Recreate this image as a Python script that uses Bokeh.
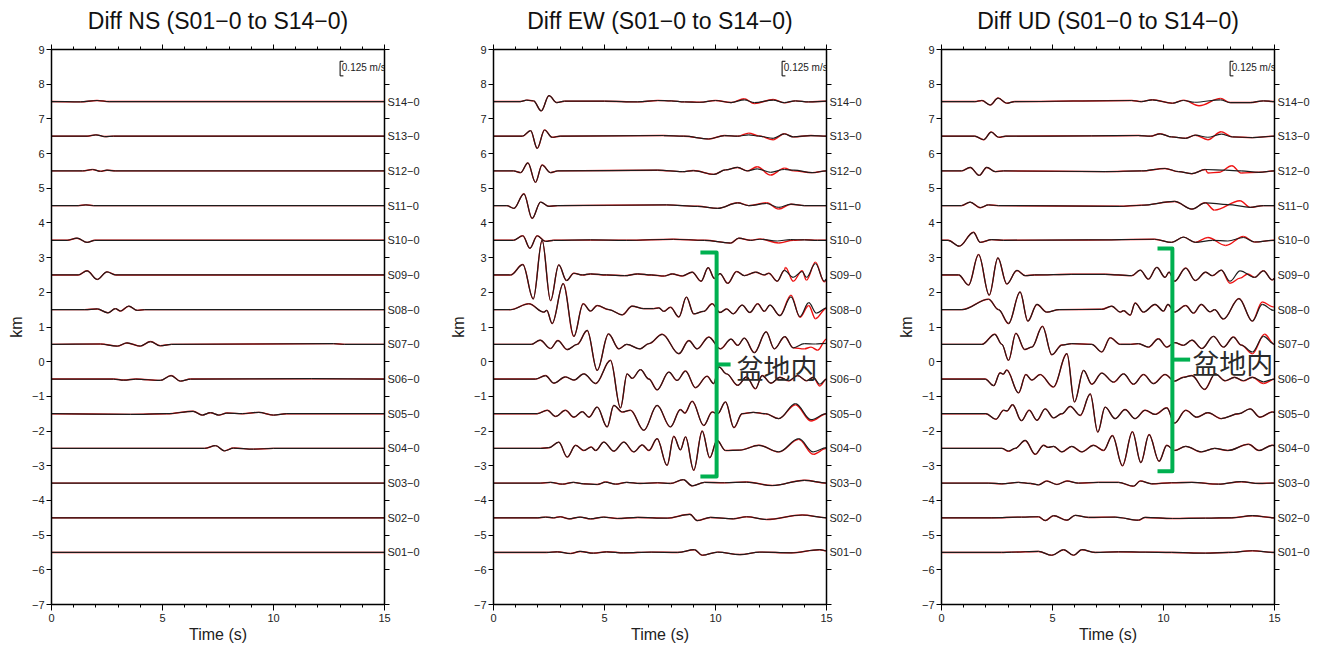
import numpy as np
from bokeh.plotting import figure
from bokeh.layouts import row
from bokeh.models import ColumnDataSource, LinearAxis, FixedTicker, Label, Range1d, HTMLLabel
from bokeh.embed import file_html
from bokeh.resources import INLINE

# ---------------- data ----------------
STATIONS = ["S01−0", "S02−0", "S03−0", "S04−0", "S05−0", "S06−0", "S07−0",
            "S08−0", "S09−0", "S10−0", "S11−0", "S12−0", "S13−0", "S14−0"]
OFFSETS = [-5.5, -4.5, -3.5, -2.5, -1.5, -0.5, 0.5, 1.5, 2.5, 3.5, 4.5, 5.5, 6.5, 7.5]
X_TICKS = [0, 5, 10, 15]
X_MINOR = list(range(0, 16))
Y_TICKS = list(range(-7, 10))
TITLES = ["Diff NS (S01−0 to S14−0)", "Diff EW (S01−0 to S14−0)", "Diff UD (S01−0 to S14−0)"]
SCALE_TEXT = "0.125 m/s"
BASIN_TEXT = "盆地内"

# waveform turning points: (time s, deflection km)
NS_S14 = [(0, 0), (1.3, -0.01), (2.05, 0.03), (2.6, 0), (15, 0)]
NS_S13 = [(0, 0), (1.6, 0), (2.0, 0.04), (2.4, -0.01), (2.8, 0), (15, 0)]
NS_S12 = [(0, 0), (1.4, 0), (1.85, 0.04), (2.2, -0.01), (2.5, 0.02), (2.9, 0), (15, 0)]
NS_S11 = [(0, 0), (1.2, 0), (1.55, 0.02), (1.9, 0), (15, 0)]
NS_S10 = [(0, 0), (0.7, 0), (1.15, 0.06), (1.6, -0.06), (1.95, 0), (15, 0)]
NS_S09 = [(0, 0), (1.2, 0), (1.6, 0.12), (2.06, -0.13), (2.5, 0.09), (2.9, 0), (15, 0)]
NS_S08 = [(0, 0), (1.5, 0), (2.06, 0.02), (2.54, -0.09), (2.88, 0.03), (3.1, -0.04), (3.48, 0.1),
          (3.86, -0.02), (4.2, 0), (15, 0)]
NS_S07 = [(0, 0), (2.2, 0.01), (2.96, -0.05), (3.4, 0.04), (4.0, -0.05), (4.46, 0.08), (4.9, -0.04),
          (5.4, 0), (12.7, 0.02), (13.2, 0), (15, 0)]
NS_S06 = [(0, 0), (2.8, 0), (3.26, -0.03), (3.8, 0), (4.9, -0.04), (5.39, 0.1), (5.8, -0.06),
          (6.26, 0), (11.7, 0.01), (15, 0)]
NS_S05 = [(0, 0), (3.56, -0.02), (5.2, 0), (6.38, 0.07), (6.79, -0.04), (7.16, 0.03), (7.54, -0.04),
          (7.9, 0.02), (8.6, 0), (9.34, 0.04), (10.0, -0.04), (10.6, 0), (15, 0)]
NS_S04 = [(0, 0), (6.9, 0), (7.39, 0.08), (7.79, -0.07), (8.2, 0.01), (9.1, -0.02), (10.0, 0), (15, 0)]
NS_S03 = [(0, 0), (15, 0)]
NS_S02 = [(0, 0), (15, 0)]
NS_S01 = [(0, 0), (15, 0)]

EW_S14 = [(0, 0), (1.2, 0), (1.5, 0.04), (1.8, 0.02), (2.15, -0.27), (2.5, 0.17), (2.85, -0.03),
          (3.2, 0.01), (5.0, 0.01), (6.5, -0.01), (7.4, 0.03), (8.0, 0.02), (8.6, -0.01), (9.3, -0.02),
          (10.0, 0.03), (10.7, -0.03), (11.3, 0.05), (11.75, -0.03), (12.6, 0.04), (13.1, -0.03),
          (13.6, 0.02), (14.2, -0.01), (15, 0.01)]
EW_S13 = [(0, 0), (1.3, 0), (1.67, 0.16), (1.97, -0.35), (2.3, 0.18), (2.64, -0.03), (3.0, 0),
          (7.67, 0.02), (8.57, 0), (9.7, -0.08), (10.4, 0.02), (11.0, 0.0), (11.5, 0.04), (11.95, 0.0),
          (12.6, -0.06), (13.1, 0.07), (13.5, -0.02), (14.3, 0.02), (15, 0)]
EW_S12 = [(0, 0), (0.9, 0), (1.22, -0.05), (1.55, 0.23), (1.89, -0.33), (2.19, 0.17), (2.57, -0.05),
          (2.9, 0), (7.4, 0.02), (8.5, -0.02), (9.0, 0.01), (9.93, -0.1), (10.45, 0.03), (11.0, 0.1),
          (11.43, 0.0), (11.88, 0.06), (12.48, -0.04), (13.1, 0.04), (13.53, 0.02), (14.35, -0.05), (15, 0)]
EW_S11 = [(0, 0), (0.6, 0), (0.92, -0.08), (1.37, 0.34), (1.74, -0.37), (2.12, 0.1), (2.5, -0.02),
          (2.9, 0), (7.8, 0.02), (9.2, -0.02), (10.1, -0.08), (11.0, 0.08), (11.5, 0.0), (12.3, 0.06),
          (12.85, -0.05), (13.4, 0.04), (14.0, 0), (15, 0)]
EW_S10 = [(0, 0), (0.9, 0), (1.32, 0.13), (1.64, -0.23), (1.97, 0.13), (2.34, -0.03), (2.7, 0),
          (4.37, 0.01), (6.0, 0), (8.1, 0.03), (9.5, 0), (10.68, -0.08), (11.05, 0.06), (11.58, 0),
          (12.0, 0.03), (12.78, -0.02), (13.38, 0.02), (14.0, 0.01), (14.6, 0), (15, 0)]
EW_S09 = [(0, 0), (0.77, 0), (1.32, 0.3), (1.79, -0.69), (2.19, 1.0), (2.57, -0.74), (2.94, 0.29),
          (3.29, -0.16), (3.62, 0.05), (4.0, 0), (4.37, 0.03), (5.1, 0.0), (5.9, -0.02), (6.5, 0.03),
          (7.1, 0), (7.7, -0.03), (8.05, 0.03), (8.5, -0.03), (8.95, 0.08), (9.35, -0.18), (9.67, 0.21),
          (9.95, -0.1), (10.2, 0.04), (10.55, -0.24), (10.95, 0.1), (11.3, -0.02), (11.8, 0.08),
          (12.2, 0.0), (12.4, 0.05), (12.78, -0.18), (13.1, 0.13), (13.5, -0.07), (13.9, 0.1),
          (14.1, -0.07), (14.5, 0.33), (14.9, -0.18), (15, -0.12)]
EW_S08 = [(0, 0), (0.77, 0), (1.59, 0.17), (2.27, -0.07), (2.4, -0.02), (2.64, -0.4), (3.14, 0.75),
          (3.62, -0.77), (4.04, 0.17), (4.37, -0.04), (4.67, 0.12), (5.2, 0.0), (5.8, -0.15), (6.24, 0.1),
          (6.77, 0.03), (7.2, 0.03), (7.45, 0.05), (7.67, -0.05), (7.97, 0.07), (8.35, -0.21), (8.69, 0.36),
          (9.02, -0.12), (9.47, -0.05), (9.85, 0.17), (10.2, -0.08), (10.5, 0.02), (10.8, -0.12),
          (11.2, 0.13), (11.55, -0.08), (11.9, 0.17), (12.2, -0.05), (12.45, 0.13), (12.9, -0.17),
          (13.4, 0.37), (13.8, -0.2), (14.2, 0.2), (14.55, -0.1), (15, 0.05)]
EW_S07 = [(0, 0), (1.7, 0), (2.1, 0.12), (2.57, -0.12), (2.9, 0.11), (3.32, -0.15), (3.77, 0.0),
          (4.22, 0.4), (4.67, -0.75), (5.18, 0.3), (5.65, -0.13), (6.0, 0.0), (6.6, -0.13), (7.0, 0.02),
          (7.6, 0.29), (8.35, -0.27), (8.8, 0.11), (9.17, -0.13), (9.7, 0.21), (10.22, -0.13),
          (10.7, 0.15), (11.0, -0.03), (11.3, 0.18), (11.75, -0.24), (12.28, 0.36), (12.65, -0.13),
          (13.12, 0.22), (13.5, -0.1), (14.0, 0.02), (14.5, 0.01), (15, 0.03)]
EW_S06 = [(0, 0), (1.9, 0), (2.34, 0.1), (2.72, -0.12), (3.24, 0.06), (3.62, -0.03), (4.07, 0.15),
          (4.6, -0.13), (5.27, 0.54), (5.72, -0.83), (6.02, 0.15), (6.25, 0.02), (6.62, 0.27), (7.0, 0.0),
          (7.37, -0.31), (7.9, 0.2), (8.27, -0.04), (8.65, 0.23), (9.1, -0.25), (9.62, 0.08),
          (9.92, -0.13), (10.15, 0.35), (10.5, 0.15), (11.0, -0.18), (11.4, 0.06), (11.8, -0.28),
          (12.1, 0.1), (12.5, -0.12), (12.9, 0.05), (13.3, -0.05), (13.7, 0.1), (14.1, -0.05),
          (14.4, 0.05), (14.7, -0.15), (15, 0.0)]
EW_S05 = [(0, 0), (1.97, 0), (2.42, 0.1), (2.8, -0.08), (3.24, 0.1), (3.62, -0.1), (4.0, 0.06),
          (4.3, -0.1), (4.67, 0.19), (5.12, -0.38), (5.42, 0.24), (5.8, 0.05), (6.17, 0.1), (6.77, -0.48),
          (7.37, 0.24), (7.97, -0.38), (8.42, 0.12), (8.62, 0.02), (8.95, 0.36), (9.47, -0.34),
          (9.85, 0.05), (10.1, 0.0), (10.45, 0.34), (10.83, -0.4), (11.2, 0.0), (11.7, 0.04),
          (12.25, 0.0), (12.85, -0.14), (13.6, 0.29), (14.3, -0.17), (15, 0.0)]
EW_S04 = [(0, 0), (2.1, 0), (2.49, 0.02), (2.94, 0.18), (3.32, -0.25), (3.7, 0.09), (4.07, -0.06),
          (4.4, 0.04), (4.6, -0.06), (4.97, 0.18), (5.42, -0.08), (5.87, 0.18), (6.32, -0.1), (6.7, 0.1),
          (7.0, -0.06), (7.37, 0.28), (7.82, -0.49), (8.12, 0.35), (8.42, -0.04), (8.65, 0.33),
          (9.02, -0.63), (9.4, 0.5), (9.74, -0.27), (10.07, 0.23), (10.45, -0.06), (11.1, -0.05),
          (11.95, 0.09), (12.85, -0.1), (13.75, 0.28), (14.4, -0.1), (15, 0.02)]
EW_S03 = [(0, 0), (2.1, 0), (2.57, 0.02), (3.1, -0.03), (3.6, 0.02), (4.07, -0.02), (4.67, -0.04),
          (5.05, 0.03), (5.5, -0.03), (6.0, 0.02), (6.6, -0.01), (7.4, 0.01), (7.97, -0.01), (8.55, 0.1),
          (8.95, -0.08), (9.5, 0.02), (10.4, 0.01), (11.4, 0.03), (12.55, -0.07), (14.0, 0.08), (15, 0)]
EW_S02 = [(0, 0), (2.0, 0), (2.35, 0.02), (2.7, 0.0), (3.0, 0.03), (3.4, -0.03), (3.9, 0.02),
          (4.37, -0.03), (4.97, 0.02), (5.57, -0.02), (6.5, 0.01), (7.82, -0.01), (8.85, 0.1),
          (9.17, -0.08), (9.77, 0.01), (10.8, -0.03), (11.4, 0.03), (12.3, -0.05), (13.9, 0.08), (15, 0)]
EW_S01 = [(0, 0), (2.4, 0), (2.87, 0.02), (3.47, -0.03), (3.9, 0.03), (4.5, -0.02), (5.1, 0.02),
          (5.87, -0.01), (7.1, 0.01), (8.3, 0), (9.05, 0.08), (9.4, -0.08), (10.1, 0.01), (11.1, -0.06),
          (12.0, 0.01), (13.4, -0.01), (14.7, 0.08), (15, 0.05)]

UD_S14 = [(0, 0), (1.5, 0), (1.82, 0.03), (2.19, -0.1), (2.55, 0.1), (2.94, -0.05), (3.3, 0),
          (8.57, 0.03), (9.0, 0.0), (9.5, 0.05), (10.4, -0.05), (10.9, 0.03), (11.4, -0.02),
          (12.57, 0.05), (13.0, -0.03), (13.9, -0.03), (14.5, 0.02), (15, 0)]
UD_S13 = [(0, 0), (1.5, 0), (1.9, -0.1), (2.24, 0.12), (2.57, -0.03), (2.9, 0), (6.77, 0.01),
          (8.9, 0.02), (9.4, 0.0), (9.85, 0.07), (10.37, -0.02), (11.0, -0.06), (11.43, 0.03),
          (12.0, -0.03), (12.6, 0.06), (13.1, -0.02), (14.0, -0.04), (15, 0)]
UD_S12 = [(0, 0), (0.9, 0), (1.29, 0.1), (1.7, -0.13), (2.04, 0.1), (2.42, -0.02), (2.8, 0),
          (7.37, -0.02), (9.0, 0.0), (10.07, 0.07), (10.68, -0.02), (11.28, -0.08), (11.88, 0.04),
          (12.8, 0.02), (13.5, 0.0), (14.3, -0.04), (15, 0)]
UD_S11 = [(0, 0), (0.9, 0), (1.29, 0.1), (1.74, -0.06), (2.12, 0.02), (2.57, 0), (8.0, -0.02),
          (9.0, 0.01), (10.5, 0.12), (11.28, -0.1), (11.88, 0.08), (12.9, 0.03), (13.9, -0.05),
          (14.5, 0), (15, 0)]
UD_S10 = [(0, 0), (0.3, 0), (0.8, -0.17), (1.44, 0.23), (1.74, -0.06), (2.27, 0.02), (2.8, 0),
          (6.6, 0.01), (9.6, 0.03), (10.37, -0.06), (10.9, 0.09), (11.43, -0.06), (12.2, 0.0),
          (12.9, -0.02), (13.6, 0.08), (14.1, -0.05), (15, 0)]
UD_S09 = [(0, 0), (0.77, 0), (1.22, -0.29), (1.67, 0.59), (2.15, -0.58), (2.54, 0.49), (2.94, -0.26),
          (3.4, 0.13), (3.77, -0.02), (4.2, 0), (5.87, 0.02), (7.37, 0.02), (8.57, -0.02), (8.95, 0.14),
          (9.32, -0.12), (9.7, 0.22), (10.07, -0.07), (10.25, 0.08), (10.5, -0.18), (11.0, 0.2),
          (11.43, -0.16), (11.9, 0.08), (12.2, -0.02), (12.6, 0.14), (13.0, -0.18), (13.45, 0.12),
          (14.1, -0.07), (14.5, 0.12), (14.9, -0.14), (15, -0.1)]
UD_S08 = [(0, 0), (0.92, 0), (2.12, 0.3), (2.57, 0.0), (3.02, -0.4), (3.54, 0.51), (3.89, -0.33),
          (4.3, 0.15), (4.74, -0.07), (5.3, 0), (7.22, 0.01), (7.67, 0.1), (8.05, -0.07), (8.2, -0.03),
          (8.5, -0.16), (8.72, 0.19), (9.1, -0.07), (9.62, 0.15), (10.0, -0.04), (10.2, 0.15),
          (10.5, -0.07), (11.0, 0.12), (11.35, -0.1), (11.7, 0.15), (12.1, -0.06), (12.3, 0.0),
          (12.7, -0.27), (13.4, 0.32), (14.0, -0.33), (14.45, 0.15), (14.95, -0.02), (15, -0.02)]
UD_S07 = [(0, 0), (1.82, 0), (2.4, 0.29), (2.72, 0.0), (3.02, -0.46), (3.35, 0.32), (3.75, -0.15),
          (4.07, -0.08), (4.55, 0.52), (4.97, -0.3), (5.42, -0.02), (5.87, 0.02), (6.77, 0),
          (7.22, -0.22), (7.6, 0.19), (8.05, 0.0), (8.5, 0.0), (8.87, 0.02), (9.32, -0.08), (9.77, 0.16),
          (10.15, -0.08), (10.5, 0.05), (10.9, -0.03), (11.28, 0.12), (11.73, -0.12), (12.25, 0.23),
          (12.7, -0.08), (13.15, 0.21), (13.5, -0.02), (14.0, -0.22), (14.5, 0.23), (15, 0)]
UD_S06 = [(0, 0), (1.97, 0), (2.35, -0.19), (2.64, 0.18), (2.78, 0.14), (2.94, 0.26), (3.47, -0.4),
          (3.8, 0.13), (4.07, -0.03), (4.44, 0.13), (5.04, -0.23), (5.65, 0.73), (5.99, -0.66),
          (6.4, 0.25), (6.77, -0.15), (7.22, 0.17), (7.75, -0.09), (8.2, 0.15), (8.65, -0.15),
          (9.1, 0.13), (9.55, -0.13), (10.07, 0.13), (10.5, -0.06), (10.9, 0.05), (11.28, 0.1),
          (11.85, -0.3), (12.33, 0.15), (12.78, -0.05), (13.2, 0.05), (13.6, -0.05), (14.0, 0.05),
          (14.5, -0.08), (15, 0)]
UD_S05 = [(0, 0), (2.0, 0), (2.45, -0.16), (2.8, 0.1), (2.95, 0.08), (3.2, 0.26), (3.6, -0.2),
          (3.95, 0.1), (4.3, -0.19), (4.67, 0.14), (5.05, -0.12), (5.42, 0.0), (5.8, 0.21),
          (6.25, -0.05), (6.7, 0.57), (7.04, -0.53), (7.37, 0.19), (7.82, -0.14), (8.27, 0.12),
          (8.72, -0.14), (9.17, 0.1), (9.62, -0.02), (10.15, 0.17), (10.5, -0.27), (11.0, 0.1),
          (11.5, -0.1), (12.0, 0.03), (12.6, -0.14), (13.4, 0.0), (13.9, 0.14), (14.35, -0.1),
          (14.9, 0.05), (15, 0.04)]
UD_S04 = [(0, 0), (2.72, 0), (3.02, -0.08), (3.32, 0.0), (3.77, 0.23), (4.22, -0.17), (4.6, 0.09),
          (4.8, 0.03), (5.05, 0.06), (5.42, -0.1), (5.87, 0.06), (6.32, -0.1), (6.85, 0.09), (7.3, -0.06),
          (7.7, 0.37), (8.15, -0.5), (8.6, 0.48), (8.98, -0.41), (9.35, 0.4), (9.8, -0.37),
          (10.15, 0.09), (10.5, -0.06), (11.0, 0.06), (11.7, -0.1), (12.3, 0.0), (12.9, -0.06),
          (13.83, 0.12), (14.3, -0.06), (14.9, 0.09), (15, 0.08)]
UD_S03 = [(0, 0), (2.1, 0), (2.72, -0.02), (3.47, 0.02), (4.0, -0.01), (4.37, -0.05), (4.74, 0.06),
          (5.2, -0.04), (5.65, 0.06), (6.17, 0.0), (7.07, 0.02), (7.97, 0.02), (8.65, -0.09),
          (8.95, 0.06), (9.47, -0.02), (10.37, 0.01), (11.28, 0.02), (12.48, -0.03), (13.5, 0.04),
          (14.3, -0.01), (15, 0)]
UD_S02 = [(0, 0), (2.27, 0), (3.6, 0.02), (4.37, 0.03), (4.67, -0.08), (5.05, 0.06), (5.65, -0.07),
          (6.02, 0.07), (6.62, 0.01), (7.82, 0.02), (8.87, -0.07), (9.17, 0.01), (10.4, -0.02),
          (11.9, -0.01), (13.08, 0), (14.0, 0.06), (15, 0)]
UD_S01 = [(0, 0), (2.7, 0), (3.17, 0.01), (4.37, 0.03), (4.97, -0.08), (5.5, 0.08), (5.95, -0.08),
          (6.32, 0.08), (6.92, 0), (7.97, 0.02), (9.17, 0.01), (10.37, 0), (11.88, -0.02), (12.93, 0),
          (14.0, 0.05), (15, 0)]

# red trace where it departs from the black one (from its first time to the end)
EW_S14_red = [(11.3, 0.08), (11.75, -0.06), (12.6, 0.06), (13.1, -0.04), (13.6, 0.02), (14.2, -0.01), (15, 0.01)]
EW_S13_red = [(11.5, 0.09), (11.95, 0.01), (12.6, -0.1), (13.1, 0.07), (13.5, -0.02), (14.3, 0.02), (15, 0)]
EW_S12_red = [(11.88, 0.12), (12.48, -0.12), (13.1, 0.08), (13.53, 0.0), (14.35, -0.05), (15, 0)]
EW_S11_red = [(12.3, 0.08), (12.85, -0.1), (13.4, 0.04), (14.0, 0), (15, 0)]
EW_S10_red = [(12.0, 0.04), (12.85, -0.08), (13.5, 0.0), (14.0, 0.02), (14.6, 0), (15, 0)]
EW_S09_red = [(13.15, 0.22), (13.5, -0.18), (13.9, 0.12), (14.1, -0.15), (14.5, 0.37), (14.9, -0.2), (15, -0.14)]
EW_S08_red = [(13.4, 0.42), (13.8, -0.22), (14.2, 0.12), (14.5, -0.26), (15, 0.04)]
EW_S07_red = [(13.5, -0.1), (14.0, -0.13), (14.3, -0.08), (14.6, -0.17), (15, 0.15)]
EW_S06_red = [(14.7, -0.2), (15, 0.0)]
EW_S05_red = [(13.6, 0.26), (14.3, -0.21), (15, 0.0)]
EW_S04_red = [(13.75, 0.26), (14.4, -0.17), (15, 0.0)]

UD_S14_red = [(10.9, 0.04), (11.6, -0.12), (12.57, 0.09), (13.0, -0.03), (13.9, -0.03), (14.5, 0.02), (15, 0)]
UD_S13_red = [(12.0, -0.1), (12.6, 0.13), (13.1, -0.02), (14.0, -0.04), (15, 0)]
UD_S12_red = [(12.0, -0.06), (12.5, -0.04), (13.08, 0.15), (13.5, -0.06), (14.3, -0.04), (15, 0)]
UD_S11_red = [(12.3, -0.13), (13.45, 0.14), (13.9, -0.05), (14.5, 0), (15, 0)]
UD_S10_red = [(12.0, 0.08), (12.8, -0.15), (13.6, 0.11), (14.1, -0.05), (15, 0)]
UD_S09_red = [(13.0, -0.24), (13.45, -0.09), (13.8, 0.03), (14.1, -0.07), (14.5, 0.12), (14.9, -0.14), (15, -0.1)]
UD_S08_red = [(14.0, -0.33), (14.45, 0.22), (14.95, 0.08), (15, 0.08)]
UD_S07_red = [(14.0, -0.27), (14.55, 0.29), (15, 0.0)]
UD_S06_red = [(14.5, -0.13), (15, 0)]

NS_BLACK = [NS_S01, NS_S02, NS_S03, NS_S04, NS_S05, NS_S06, NS_S07, NS_S08, NS_S09, NS_S10,
            NS_S11, NS_S12, NS_S13, NS_S14]
EW_BLACK = [EW_S01, EW_S02, EW_S03, EW_S04, EW_S05, EW_S06, EW_S07, EW_S08, EW_S09, EW_S10,
            EW_S11, EW_S12, EW_S13, EW_S14]
UD_BLACK = [UD_S01, UD_S02, UD_S03, UD_S04, UD_S05, UD_S06, UD_S07, UD_S08, UD_S09, UD_S10,
            UD_S11, UD_S12, UD_S13, UD_S14]
NS_RED = [None] * 14
EW_RED = [None, None, None, EW_S04_red, EW_S05_red, EW_S06_red, EW_S07_red, EW_S08_red,
          EW_S09_red, EW_S10_red, EW_S11_red, EW_S12_red, EW_S13_red, EW_S14_red]
UD_RED = [None, None, None, None, None, UD_S06_red, UD_S07_red, UD_S08_red, UD_S09_red,
          UD_S10_red, UD_S11_red, UD_S12_red, UD_S13_red, UD_S14_red]

# ---------------- drawing ----------------
FONT = "Liberation Sans"
K = 0.36


def segments(traces):
    cols = {k: [] for k in ("x0", "y0", "x1", "y1", "cx0", "cy0", "cx1", "cy1")}
    for pts, base in traces:
        t = np.array([p[0] for p in pts], dtype=float)
        a = np.array([p[1] for p in pts], dtype=float) + base
        d = t[1:] - t[:-1]
        cols["x0"] += list(t[:-1]); cols["x1"] += list(t[1:])
        cols["y0"] += list(a[:-1]); cols["y1"] += list(a[1:])
        cols["cx0"] += list(t[:-1] + K * d); cols["cy0"] += list(a[:-1])
        cols["cx1"] += list(t[1:] - K * d); cols["cy1"] += list(a[1:])
    return ColumnDataSource(cols)


def style_axis(ax):
    ax.axis_line_width = 1.5
    ax.axis_line_color = "black"
    ax.major_tick_line_color = "black"
    ax.minor_tick_line_color = "black"
    ax.major_tick_in = 0
    ax.minor_tick_in = 0
    ax.major_label_text_font = FONT
    ax.major_label_text_font_size = "11px"
    ax.major_label_text_color = "#222222"
    ax.axis_label_text_font = FONT
    ax.axis_label_text_font_size = "16px"
    ax.axis_label_text_font_style = "normal"
    ax.axis_label_text_color = "#222222"


def make_panel(title, black, red, border_left, border_right, bracket=None):
    p = figure(frame_width=333, frame_height=555, x_range=Range1d(0, 15), y_range=Range1d(-7, 9),
               output_backend="svg", toolbar_location=None, x_axis_location=None,
               y_axis_location=None, min_border_left=border_left, min_border_right=border_right,
               min_border_top=49, min_border_bottom=40, title=title)
    p.grid.visible = False
    p.outline_line_color = None
    p.title.align = "center"
    p.title.text_font = FONT
    p.title.text_font_size = "23px"
    p.title.text_font_style = "normal"
    p.title.text_color = "#111111"

    left = LinearAxis(ticker=FixedTicker(ticks=Y_TICKS),
                      major_label_overrides={v: str(v).replace("-", "−") for v in Y_TICKS},
                      axis_label="km")
    style_axis(left)
    left.major_tick_out = 5
    left.major_label_standoff = 2
    left.axis_label_standoff = 4
    p.add_layout(left, "left")

    right = LinearAxis(ticker=FixedTicker(ticks=OFFSETS, minor_ticks=Y_TICKS),
                       major_label_overrides={o: s for o, s in zip(OFFSETS, STATIONS)})
    style_axis(right)
    right.major_tick_out = 0
    right.minor_tick_out = 5
    right.major_label_standoff = -2
    p.add_layout(right, "right")

    bottom = LinearAxis(ticker=FixedTicker(ticks=X_TICKS, minor_ticks=X_MINOR), axis_label="Time (s)")
    style_axis(bottom)
    bottom.major_tick_out = 6
    bottom.minor_tick_out = 3
    bottom.major_label_standoff = 3
    bottom.axis_label_standoff = 1
    p.add_layout(bottom, "below")

    top = LinearAxis(ticker=FixedTicker(ticks=X_TICKS, minor_ticks=X_MINOR),
                     major_label_overrides={v: "" for v in X_TICKS}, axis_label=".")
    style_axis(top)
    top.major_tick_out = 5
    top.minor_tick_out = 3
    top.major_label_text_font_size = "0px"
    top.major_label_standoff = 0
    top.axis_label_text_font_size = "4px"
    top.axis_label_text_alpha = 0
    top.axis_label_standoff = 0
    p.add_layout(top, "above")

    red_traces = []
    for pts, r, base in zip(black, red, OFFSETS):
        if r is None:
            rp = pts
        else:
            rp = [q for q in pts if q[0] < r[0][0]] + r
        red_traces.append((rp, base))
    p.bezier(x0="x0", y0="y0", x1="x1", y1="y1", cx0="cx0", cy0="cy0", cx1="cx1", cy1="cy1",
             source=segments(red_traces), line_color="#ee1111", line_width=1.4)
    p.bezier(x0="x0", y0="y0", x1="x1", y1="y1", cx0="cx0", cy0="cy0", cx1="cx1", cy1="cy1",
             source=segments(list(zip(black, OFFSETS))), line_color="#1c1c1c", line_width=1.2)

    # scale bar
    p.line(x=[13.15, 13.0, 13.0, 13.15], y=[8.66, 8.66, 8.24, 8.24], line_color="black", line_width=1)
    p.add_layout(HTMLLabel(x=13.1, y=8.48, text=SCALE_TEXT, text_font=FONT, text_font_size="10px",
                           text_baseline="middle", text_align="left", text_color="#222222"))

    if bracket is not None:
        xl, xv, ytop, ybot, xn, yn, xt, yt = bracket
        p.line(x=[xl, xv, xv, xl], y=[ytop, ytop, ybot, ybot], line_color="#00b050", line_width=4,
               line_join="round")
        p.line(x=[xv, xn], y=[yn, yn], line_color="#00b050", line_width=4)
        p.add_layout(Label(x=xt, y=yt, text=BASIN_TEXT, text_font="Noto Sans CJK JP",
                           text_font_size="27px", text_baseline="middle", text_align="left",
                           text_color="#2a2a2a"))
    return p


p1 = make_panel(TITLES[0], NS_BLACK, NS_RED, 51, 62)
p2 = make_panel(TITLES[1], EW_BLACK, EW_RED, 47, 68,
                bracket=(9.32, 10.05, 3.15, -3.31, 10.68, -0.08, 10.95, -0.17))
p3 = make_panel(TITLES[2], UD_BLACK, UD_RED, 47, 45,
                bracket=(9.73, 10.4, 3.26, -3.16, 11.2, 0.06, 11.3, -0.02))

layout = row(p1, p2, p3)
open("out.html", "w").write(file_html(layout, INLINE))
